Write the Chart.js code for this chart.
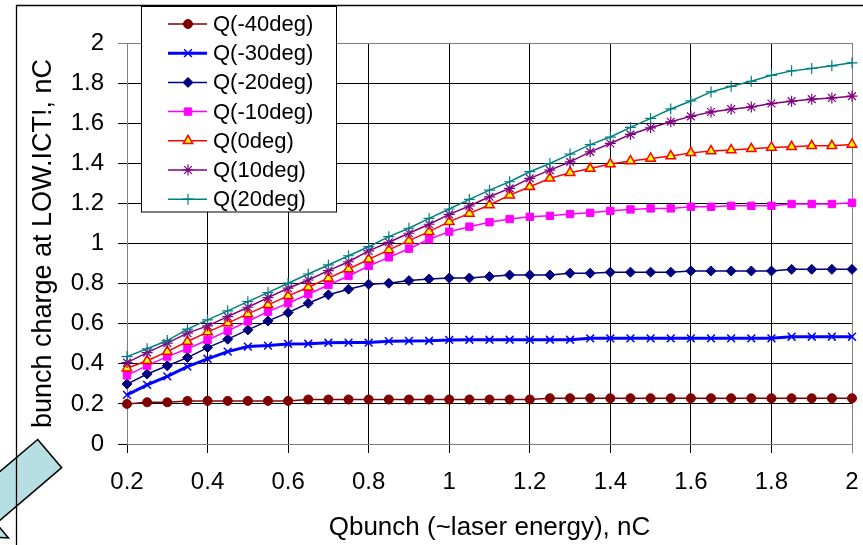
<!DOCTYPE html>
<html>
  <head>
    <meta charset="utf-8" />
    <title>Bunch charge vs Qbunch</title>
    <style>
      body { margin: 0; background: #fff; }
      #wrap { width: 863px; height: 545px; }
    </style>
    <script src="https://cdn.jsdelivr.net/npm/chart.js@4.4.0/dist/chart.umd.min.js"></script>
  </head>
  <body>
    <div id="wrap"><canvas id="chart" width="863" height="545"></canvas></div>

    <script type="text/javascript">
      // Qbunch values (nC)
      const qBunch = [
        0.2, 0.25, 0.3, 0.35, 0.4, 0.45, 0.5, 0.55, 0.6, 0.65, 0.7, 0.75,
        0.8, 0.85, 0.9, 0.95, 1.0, 1.05, 1.1, 1.15, 1.2, 1.25, 1.3, 1.35,
        1.4, 1.45, 1.5, 1.55, 1.6, 1.65, 1.7, 1.75, 1.8, 1.85, 1.9, 1.95, 2.0,
      ];

      // charge at LOW.ICT for each phase (nC)
      const qM40 = [
        0.2, 0.208, 0.208, 0.215, 0.215, 0.215, 0.215, 0.215, 0.215, 0.222,
        0.222, 0.222, 0.222, 0.222, 0.222, 0.222, 0.222, 0.222, 0.222, 0.222,
        0.222, 0.228, 0.228, 0.228, 0.228, 0.228, 0.228, 0.228, 0.228, 0.228,
        0.228, 0.228, 0.228, 0.228, 0.228, 0.228, 0.228,
      ];
      const qM30 = [
        0.245, 0.295, 0.337, 0.386, 0.425, 0.461, 0.486, 0.491, 0.499, 0.5,
        0.505, 0.506, 0.506, 0.513, 0.514, 0.515, 0.519, 0.52, 0.52, 0.52,
        0.52, 0.52, 0.52, 0.527, 0.527, 0.527, 0.527, 0.527, 0.527, 0.527,
        0.527, 0.527, 0.527, 0.535, 0.535, 0.535, 0.535,
      ];
      const qM20 = [
        0.299, 0.349, 0.39, 0.431, 0.481, 0.523, 0.569, 0.614, 0.655, 0.702,
        0.744, 0.772, 0.797, 0.802, 0.815, 0.823, 0.828, 0.828, 0.835, 0.843,
        0.843, 0.843, 0.852, 0.852, 0.857, 0.857, 0.857, 0.857, 0.863, 0.863,
        0.863, 0.863, 0.863, 0.871, 0.871, 0.871, 0.871,
      ];
      const qM10 = [
        0.342, 0.391, 0.436, 0.475, 0.519, 0.564, 0.612, 0.66, 0.702, 0.747,
        0.793, 0.838, 0.888, 0.931, 0.974, 1.021, 1.059, 1.084, 1.106, 1.122,
        1.133, 1.138, 1.147, 1.153, 1.163, 1.17, 1.175, 1.175, 1.183, 1.183,
        1.188, 1.188, 1.188, 1.197, 1.197, 1.197, 1.203,
      ];
      const q0 = [
        0.378, 0.415, 0.461, 0.511, 0.558, 0.603, 0.649, 0.694, 0.739, 0.782,
        0.827, 0.873, 0.921, 0.968, 1.014, 1.059, 1.109, 1.15, 1.192, 1.241,
        1.283, 1.325, 1.353, 1.374, 1.396, 1.411, 1.424, 1.436, 1.452, 1.461,
        1.466, 1.472, 1.479, 1.482, 1.487, 1.487, 1.494,
      ];
      const q10 = [
        0.406, 0.456, 0.503, 0.553, 0.589, 0.635, 0.682, 0.73, 0.777, 0.818,
        0.865, 0.909, 0.963, 1.006, 1.051, 1.096, 1.145, 1.187, 1.233, 1.275,
        1.325, 1.366, 1.407, 1.457, 1.499, 1.544, 1.577, 1.607, 1.634, 1.656,
        1.67, 1.681, 1.698, 1.71, 1.72, 1.726, 1.735,
      ];
      const q20 = [
        0.436, 0.475, 0.516, 0.573, 0.619, 0.664, 0.71, 0.755, 0.802, 0.848,
        0.893, 0.939, 0.984, 1.034, 1.076, 1.125, 1.172, 1.22, 1.266, 1.308,
        1.358, 1.399, 1.446, 1.493, 1.531, 1.579, 1.624, 1.671, 1.711, 1.756,
        1.784, 1.809, 1.839, 1.861, 1.873, 1.886, 1.901,
      ];

      const seriesNames = [
        "Q(-40deg)", "Q(-30deg)", "Q(-20deg)", "Q(-10deg)",
        "Q(0deg)", "Q(10deg)", "Q(20deg)",
      ];
      const seriesValues = [qM40, qM30, qM20, qM10, q0, q10, q20];

      const FONT = '"Liberation Sans", Arial, sans-serif';
      Chart.defaults.font.family = FONT;
      Chart.defaults.color = "#000";

      const styles = [
        { line: "#800000", fill: "#800000", point: "circle", r: 4.5, w: 1.5, pw: 1 },
        { line: "#0000FF", fill: "#0000FF", point: "crossRot", r: 5.5, w: 3, pw: 1.5 },
        { line: "#000080", fill: "#000080", point: "rectRot", r: 5, w: 1.5, pw: 1 },
        { line: "#FF00FF", fill: "#FF00FF", point: "rect", r: 5.2, w: 1.5, pw: 1 },
        { line: "#FF0000", fill: "#FFFF00", point: "triangle", r: 5.5, w: 1.5, pw: 1.5 },
        { line: "#800080", fill: "#800080", point: "star", r: 5.5, w: 1.5, pw: 1.2 },
        { line: "#008080", fill: "#008080", point: "cross", r: 5.5, w: 1.5, pw: 1.2 },
      ];

      const datasets = seriesValues.map((vals, i) => ({
        label: seriesNames[i],
        data: qBunch.map((x, k) => ({ x: x, y: vals[k] })),
        borderColor: styles[i].line,
        backgroundColor: styles[i].fill,
        borderWidth: styles[i].w,
        pointStyle: styles[i].point,
        pointRadius: styles[i].r,
        pointBackgroundColor: styles[i].fill,
        pointBorderColor: styles[i].line,
        pointBorderWidth: styles[i].pw,
        tension: 0,
        clip: false,
        order: seriesValues.length - 1 - i,
      }));

      // frame line and the callout arrow in the lower left corner
      const backdrop = {
        id: "backdrop",
        beforeDraw(chart) {
          const ctx = chart.ctx;
          ctx.save();
          ctx.fillStyle = "#fff";
          ctx.fillRect(0, 0, chart.width, chart.height);

          const ax = 37.7, ay = 439.5;
          const d = [-0.762, 0.648], n = [0.648, 0.762];
          const pts = [[0, 0], [0, 37], [86, 37], [86, 56], [126, 18.5], [86, -19], [86, 0]];
          ctx.beginPath();
          pts.forEach(([u, v], k) => {
            const px = ax + u * d[0] + v * n[0];
            const py = ay + u * d[1] + v * n[1];
            if (k === 0) ctx.moveTo(px, py);
            else ctx.lineTo(px, py);
          });
          ctx.closePath();
          ctx.fillStyle = "#B7DEE2";
          ctx.fill();
          ctx.strokeStyle = "#000";
          ctx.lineWidth = 1.5;
          ctx.stroke();

          ctx.beginPath();
          ctx.lineWidth = 1.3;
          ctx.moveTo(16.5, chart.height);
          ctx.lineTo(16.5, 5.5);
          ctx.lineTo(chart.width, 5.5);
          ctx.stroke();
          ctx.restore();
        },
      };

      // boxed legend inside the plot, lines with markers
      const legendBox = {
        id: "legendBox",
        afterDraw(chart) {
          const ctx = chart.ctx;
          ctx.save();
          ctx.fillStyle = "#fff";
          ctx.fillRect(141.5, 6.5, 195, 205.5);
          ctx.strokeStyle = "#000";
          ctx.lineWidth = 1;
          ctx.strokeRect(141.5, 6.5, 195, 205.5);
          ctx.font = "22px " + FONT;
          ctx.textBaseline = "middle";
          chart.data.datasets.forEach((ds, i) => {
            const y = 24 + i * 29.2;
            ctx.strokeStyle = ds.borderColor;
            ctx.lineWidth = ds.borderWidth;
            ctx.beginPath();
            ctx.moveTo(168, y);
            ctx.lineTo(207, y);
            ctx.stroke();
            ctx.fillStyle = ds.pointBackgroundColor;
            ctx.strokeStyle = ds.pointBorderColor;
            ctx.lineWidth = ds.pointBorderWidth;
            Chart.helpers.drawPoint(
              ctx,
              { pointStyle: ds.pointStyle, radius: ds.pointRadius, rotation: 0, borderWidth: ds.pointBorderWidth },
              188, y
            );
            ctx.fillStyle = "#000";
            ctx.fillText(ds.label, 213, y + 1);
          });
          ctx.restore();
        },
      };

      const gridColor = (c) =>
        c.tick && Math.abs(c.tick.value - 2) < 1e-9 ? "#808080" : "#000";
      const fmt = (v) => String(Number(v.toFixed(1)));

      new Chart(document.getElementById("chart"), {
        type: "line",
        data: { datasets: datasets },
        plugins: [backdrop, legendBox],
        options: {
          responsive: false,
          animation: false,
          layout: { padding: { top: 43, right: 11, left: 0, bottom: 0 } },
          plugins: { legend: { display: false }, tooltip: { enabled: false } },
          scales: {
            x: {
              type: "linear",
              min: 0.2,
              max: 2,
              afterFit: (s) => {
                s.height = 101;
                s.paddingLeft = 0;
                s.paddingRight = 0;
              },
              grid: { color: gridColor, tickLength: 9, lineWidth: 1 },
              border: { color: "#808080", width: 1 },
              ticks: { stepSize: 0.2, padding: 15, font: { size: 24 }, callback: fmt },
              title: {
                display: true,
                text: "Qbunch (~laser energy), nC",
                font: { size: 26 },
                padding: { top: 0, bottom: 2 },
              },
            },
            y: {
              min: 0,
              max: 2,
              afterFit: (s) => {
                s.width = 127;
                s.paddingTop = 0;
                s.paddingBottom = 0;
              },
              grid: { color: gridColor, tickLength: 9, lineWidth: 1 },
              border: { color: "#808080", width: 1 },
              ticks: { stepSize: 0.2, padding: 14, font: { size: 24 }, callback: fmt },
              title: {
                display: true,
                text: "bunch charge at LOW.ICT!, nC",
                font: { size: 27 },
                padding: { top: 27, bottom: 0 },
              },
            },
          },
        },
      });
    </script>
  </body>
</html>
